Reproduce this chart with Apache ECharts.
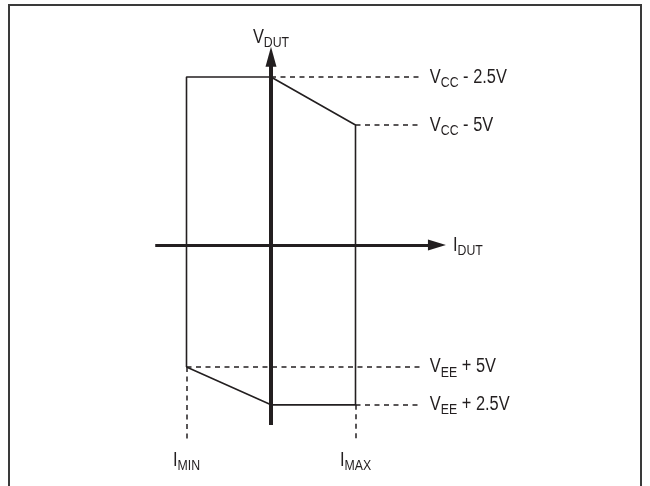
<!DOCTYPE html>
<html>
<head>
<meta charset="utf-8">
<script src="https://cdn.jsdelivr.net/npm/echarts@6/dist/echarts.min.js"></script>
<style>
  html, body { margin: 0; padding: 0; background: #ffffff; }
  #chart { width: 650px; height: 486px; }
</style>
</head>
<body>
<div id="chart"></div>
<script>
// Output-current limits (normalised units): I_MIN, I_MAX
const currentLimits = [-1, 1];
// Output-voltage levels (normalised units): VCC - 2.5V, VCC - 5V, VEE + 5V, VEE + 2.5V
const voltageLevels = [3.5, 2.5, -2.54, -3.33];
// Level labels split into [main, subscript, rest]
const levelLabels = [
  ['V', 'CC', ' - 2.5V'],
  ['V', 'CC', ' - 5V'],
  ['V', 'EE', ' + 5V'],
  ['V', 'EE', ' + 2.5V']
];
const limitLabels = [['I', 'MIN'], ['I', 'MAX']];
const vAxisTitle = ['V', 'DUT'];
const iAxisTitle = ['I', 'DUT'];

const INK = '#231f20';
const FONT = '"Liberation Sans", Arial, sans-serif';
const NARROW = 0.82; // horizontal squeeze for a condensed face

const [iMin, iMax] = currentLimits;
const [vccHi, vccLo, veeHi, veeLo] = voltageLevels;

// Extents of the drawn axes and guide lines
const iAxisFrom = -1.37, iAxisTo = 1.964;
const vAxisFrom = -3.75, vAxisTo = 3.92;
const guideRight = 1.76, guideBottom = -4.1;
const levelLabelX = 1.88, limitLabelY = -4.48;

// Operating region outline
const region = [
  [iMin, veeHi], [iMin, vccHi], [0, vccHi], [iMax, vccLo],
  [iMax, veeLo], [0, veeLo], [iMin, veeHi]
];

const guides = [
  [[0, vccHi], [guideRight, vccHi]],
  [[iMax, vccLo], [guideRight, vccLo]],
  [[iMin, veeHi], [guideRight, veeHi]],
  [[iMax, veeLo], [guideRight, veeLo]],
  [[iMin, veeHi], [iMin, guideBottom]],
  [[iMax, veeLo], [iMax, guideBottom]]
];

const rich = {
  m: { fontFamily: FONT, fontSize: 20, lineHeight: 26, fill: INK, verticalAlign: 'middle' },
  s: { fontFamily: FONT, fontSize: 15, lineHeight: 15, fill: INK, verticalAlign: 'bottom' }
};
const sub = parts => '{m|' + parts[0] + '}{s|' + parts[1] + '}' + (parts[2] ? '{m|' + parts[2] + '}' : '');

const textItems = [];
levelLabels.forEach((p, i) => textItems.push({ at: [levelLabelX, voltageLevels[i]], text: sub(p), align: 'left' }));
limitLabels.forEach((p, i) => textItems.push({ at: [currentLimits[i], limitLabelY], text: sub(p), align: 'center' }));
textItems.push({ at: [0, 4.33], text: sub(vAxisTitle), align: 'center' });
textItems.push({ at: [2.154, 0], text: sub(iAxisTitle), align: 'left' });

const frame = {
  type: 'rect', id: 'frame', silent: true,
  shape: { x: 9, y: 5, width: 632, height: 520 },
  style: { fill: 'none', stroke: '#3a3a3a', lineWidth: 2 }
};

const chart = echarts.init(document.getElementById('chart'), null, { renderer: 'canvas' });
chart.setOption({
  animation: false,
  backgroundColor: '#ffffff',
  grid: { left: 17.5, right: 41, top: 5, bottom: 1 },
  xAxis: { type: 'value', min: -3, max: 4, show: false },
  yAxis: { type: 'value', min: -5, max: 5, show: false },
  graphic: { elements: [frame] },
  series: [
    {
      type: 'line', data: region, symbol: 'none', silent: true, z: 3,
      lineStyle: { color: INK, width: 1.6 }
    },
    {
      type: 'line', data: [], silent: true, z: 2,
      markLine: {
        silent: true, symbol: 'none', label: { show: false },
        lineStyle: { color: INK, width: 1.5, type: [5, 4.5] },
        emphasis: { disabled: true },
        data: guides.map(g => [{ coord: g[0] }, { coord: g[1] }])
      }
    },
    {
      type: 'line', data: [], silent: true, z: 4,
      markLine: {
        silent: true, symbol: ['none', 'triangle'], symbolSize: [11, 18],
        label: { show: false }, emphasis: { disabled: true },
        lineStyle: { color: INK, width: 3, type: 'solid' },
        itemStyle: { color: INK },
        data: [[{ coord: [iAxisFrom, 0] }, { coord: [iAxisTo, 0] }]]
      }
    },
    {
      type: 'line', data: [], silent: true, z: 5,
      markLine: {
        silent: true, symbol: ['none', 'triangle'], symbolSize: [11, 20],
        label: { show: false }, emphasis: { disabled: true },
        lineStyle: { color: INK, width: 4, type: 'solid' },
        itemStyle: { color: INK },
        data: [[{ coord: [0, vAxisFrom] }, { coord: [0, vAxisTo] }]]
      }
    }
  ]
});

// Labels placed through the grid's scales, squeezed to a condensed width
const labelEls = textItems.map((t, i) => {
  const p = chart.convertToPixel({ gridIndex: 0 }, t.at);
  return {
    type: 'text', id: 'lbl' + i, silent: true, z: 10,
    x: p[0], y: p[1], scaleX: NARROW,
    style: { text: t.text, rich: rich, align: t.align, verticalAlign: 'middle', fill: INK }
  };
});
chart.setOption({ graphic: { elements: [frame].concat(labelEls) } });
</script>
</body>
</html>
